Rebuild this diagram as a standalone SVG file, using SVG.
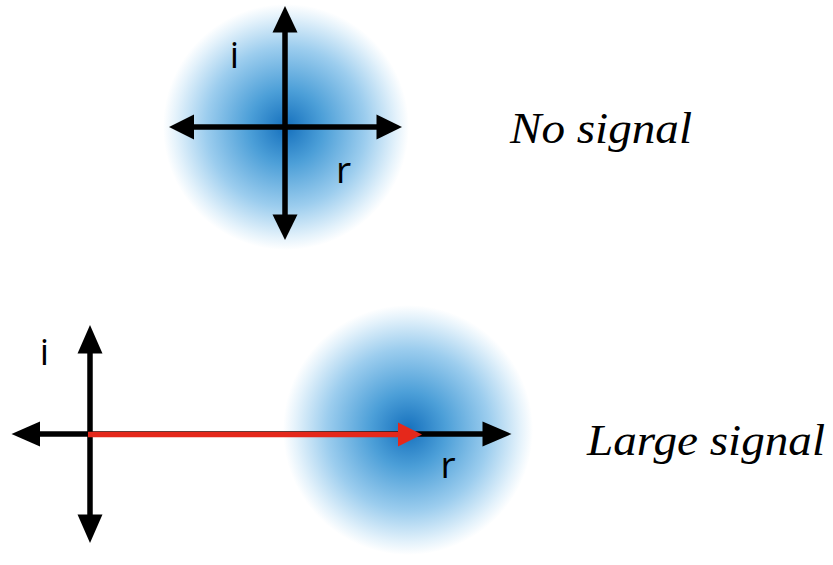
<svg xmlns="http://www.w3.org/2000/svg" width="833" height="565" viewBox="0 0 833 565">
<style>
.ax{stroke:#000;stroke-width:5.5;fill:none}
.hd{fill:#000}
.lbl{font-family:"Open Sans","Liberation Sans",sans-serif;font-size:37px;fill:#000;text-anchor:middle}
.cap{font-family:"Liberation Serif",serif;font-style:italic;font-size:44px;fill:#000}
</style>
<defs>
<radialGradient id="blob">
<stop offset="0" stop-color="#1570bd"/>
<stop offset="0.3" stop-color="#4c9fd8"/>
<stop offset="0.65" stop-color="#9ccdee"/>
<stop offset="0.9" stop-color="#e4f2fb"/>
<stop offset="1" stop-color="#ffffff"/>
</radialGradient>
</defs>
<rect width="833" height="565" fill="#fff"/>
<g id="top-diagram">
<circle cx="286" cy="127" r="123" fill="url(#blob)"/>
<line class="ax" x1="285" y1="30" x2="285" y2="216"/>
<line class="ax" x1="192" y1="127" x2="378" y2="127"/>
<path class="hd" d="M285 6 L297.5 32.5 L272.5 32.5 Z"/>
<path class="hd" d="M285 240 L297.5 214.5 L272.5 214.5 Z"/>
<path class="hd" d="M169 127 L194 114.5 L194 139.5 Z"/>
<path class="hd" d="M402 127 L376.5 114.5 L376.5 139.5 Z"/>
<text class="lbl" x="234.5" y="68">i</text>
<text class="lbl" x="343.5" y="183">r</text>
<text class="cap" x="510" y="143" textLength="182" lengthAdjust="spacingAndGlyphs">No signal</text>
</g>
<g id="bottom-diagram">
<circle cx="408" cy="430" r="125" fill="url(#blob)"/>
<line class="ax" x1="90" y1="351" x2="90" y2="516"/>
<line class="ax" x1="38" y1="434" x2="485" y2="434"/>
<path class="hd" d="M90 325 L102.5 353.5 L77.5 353.5 Z"/>
<path class="hd" d="M90 543 L102.5 514.5 L77.5 514.5 Z"/>
<path class="hd" d="M11.5 434 L40 421.5 L40 446.5 Z"/>
<path class="hd" d="M511.5 434 L482.5 421.5 L482.5 446.5 Z"/>
<text class="lbl" x="44.5" y="365">i</text>
<text class="lbl" x="448" y="478">r</text>
<text class="cap" x="587" y="455" textLength="238" lengthAdjust="spacingAndGlyphs">Large signal</text>
</g>
<g id="connectors">
<line x1="88" y1="434.5" x2="400" y2="434.5" stroke="#e5281b" stroke-width="5.5"/>
<path d="M422 434.5 L398 422.5 L398 446.5 Z" fill="#e5281b"/>
</g>
</svg>
